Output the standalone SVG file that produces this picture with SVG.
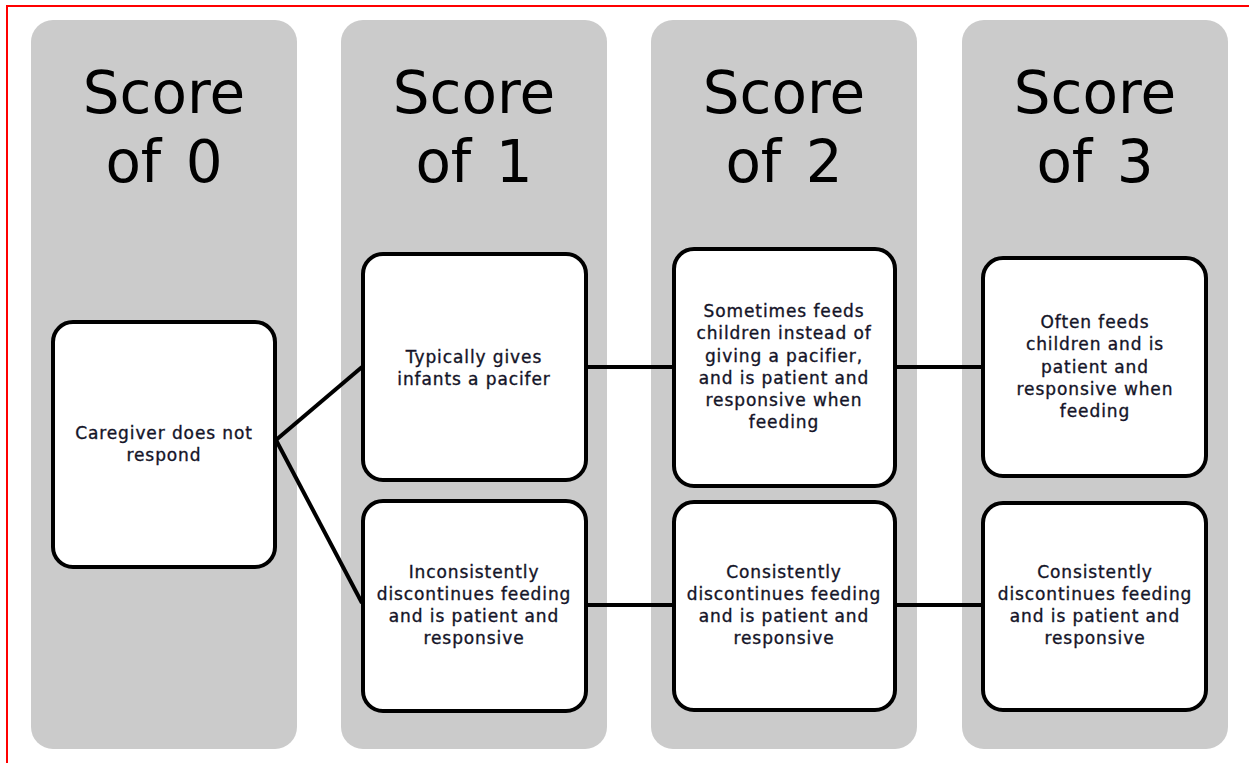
<svg xmlns="http://www.w3.org/2000/svg" width="1249" height="763" viewBox="0 0 1249 763">
<style>
.col{fill:#cbcbcb}
.box{fill:#fff;stroke:#000;stroke-width:4}
.title{font-family:"DejaVu Sans",sans-serif;font-size:58px;fill:#000;text-anchor:middle;word-spacing:6px}
.t{font-family:"DejaVu Sans",sans-serif;font-size:17px;fill:#141428;stroke:#141428;stroke-width:0.35;text-anchor:middle;letter-spacing:0.9px}
.c{stroke:#000;fill:none;stroke-width:4}
</style>
<rect width="1249" height="763" fill="#fff"/>
<path d="M7 763V6H1249" fill="none" stroke="#ff0000" stroke-width="2"/>
<g id="col0"><rect class="col" x="31" y="20" width="266" height="729" rx="22"/>
<text class="title" x="164" y="113">Score</text><text class="title" x="164" y="182">of 0</text></g>
<g id="col1"><rect class="col" x="341" y="20" width="266" height="729" rx="22"/>
<text class="title" x="474" y="113">Score</text><text class="title" x="474" y="182">of 1</text></g>
<g id="col2"><rect class="col" x="651" y="20" width="266" height="729" rx="22"/>
<text class="title" x="784" y="113">Score</text><text class="title" x="784" y="182">of 2</text></g>
<g id="col3"><rect class="col" x="962" y="20" width="266" height="729" rx="22"/>
<text class="title" x="1095" y="113">Score</text><text class="title" x="1095" y="182">of 3</text></g>
<g id="connectors">
<line class="c" x1="276" y1="440" x2="362" y2="367"/>
<line class="c" x1="276" y1="440" x2="362" y2="603"/>
<line class="c" x1="587" y1="367" x2="673" y2="367"/>
<line class="c" x1="895" y1="367" x2="982" y2="367"/>
<line class="c" x1="587" y1="605" x2="673" y2="605" stroke-width="5"/>
<line class="c" x1="895" y1="605" x2="982" y2="605" stroke-width="5"/>
</g>
<g id="n0"><rect class="box" x="53" y="322" width="222" height="245" rx="20"/>
<text class="t" x="164" y="439">Caregiver does not</text><text class="t" x="164" y="461">respond</text></g>
<g id="n1a"><rect class="box" x="363" y="254" width="223" height="226" rx="20"/>
<text class="t" x="474" y="363">Typically gives</text><text class="t" x="474" y="385">infants a pacifer</text></g>
<g id="n1b"><rect class="box" x="363" y="501" width="223" height="210" rx="20"/>
<text class="t" x="474" y="578">Inconsistently</text><text class="t" x="474" y="600">discontinues feeding</text><text class="t" x="474" y="622">and is patient and</text><text class="t" x="474" y="644">responsive</text></g>
<g id="n2a"><rect class="box" x="674" y="249" width="221" height="237" rx="20"/>
<text class="t" x="784" y="317">Sometimes feeds</text><text class="t" x="784" y="339">children instead of</text><text class="t" x="784" y="362">giving a pacifier,</text><text class="t" x="784" y="384">and is patient and</text><text class="t" x="784" y="406">responsive when</text><text class="t" x="784" y="428">feeding</text></g>
<g id="n2b"><rect class="box" x="674" y="502" width="221" height="208" rx="20"/>
<text class="t" x="784" y="578">Consistently</text><text class="t" x="784" y="600">discontinues feeding</text><text class="t" x="784" y="622">and is patient and</text><text class="t" x="784" y="644">responsive</text></g>
<g id="n3a"><rect class="box" x="983" y="258" width="223" height="218" rx="20"/>
<text class="t" x="1095" y="328">Often feeds</text><text class="t" x="1095" y="350">children and is</text><text class="t" x="1095" y="373">patient and</text><text class="t" x="1095" y="395">responsive when</text><text class="t" x="1095" y="417">feeding</text></g>
<g id="n3b"><rect class="box" x="983" y="503" width="223" height="207" rx="20"/>
<text class="t" x="1095" y="578">Consistently</text><text class="t" x="1095" y="600">discontinues feeding</text><text class="t" x="1095" y="622">and is patient and</text><text class="t" x="1095" y="644">responsive</text></g>
</svg>
